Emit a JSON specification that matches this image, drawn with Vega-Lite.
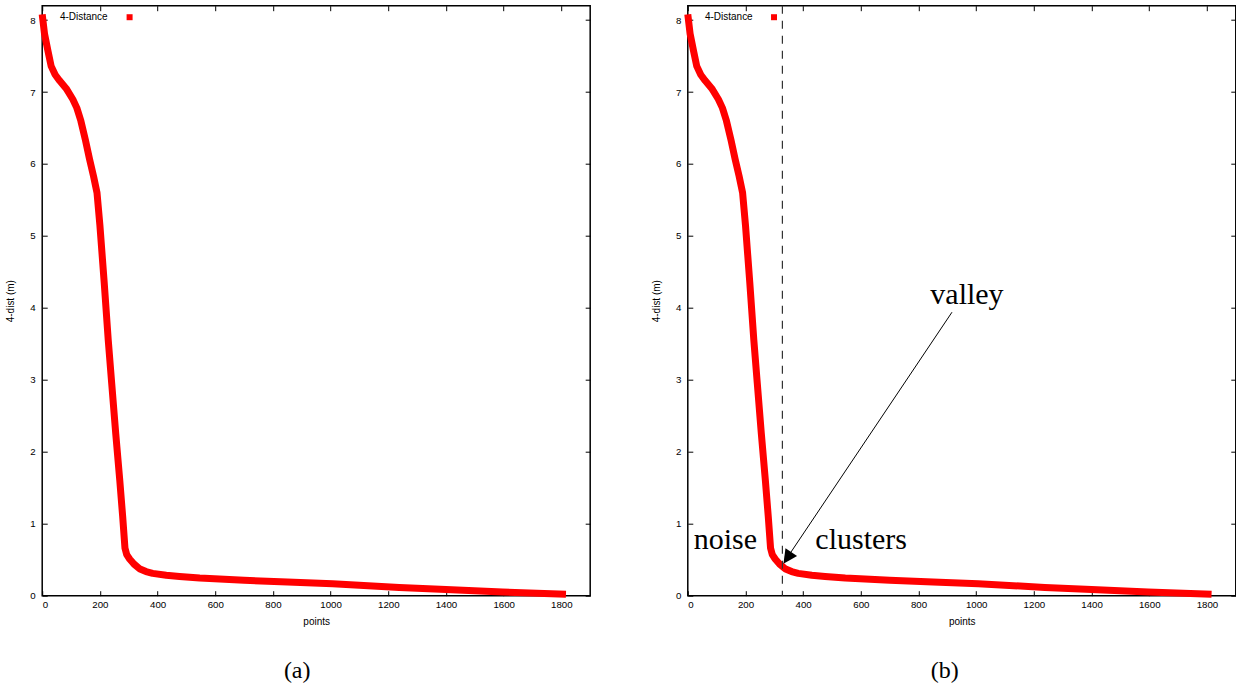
{
  "$schema": "https://vega.github.io/schema/vega-lite/v6.json",
  "padding": {"left": 4.2, "top": 3.7, "right": 0, "bottom": 0},
  "autosize": {"type": "pad"},
  "background": "white",
  "datasets": {
    "kdist": [
      {"points": 0, "dist": 8.08},
      {"points": 8, "dist": 7.81},
      {"points": 20, "dist": 7.57},
      {"points": 31, "dist": 7.36},
      {"points": 45, "dist": 7.24},
      {"points": 60, "dist": 7.16},
      {"points": 83, "dist": 7.05},
      {"points": 106, "dist": 6.9},
      {"points": 120, "dist": 6.78},
      {"points": 134, "dist": 6.6},
      {"points": 150, "dist": 6.33},
      {"points": 164, "dist": 6.07},
      {"points": 178, "dist": 5.83},
      {"points": 190, "dist": 5.6},
      {"points": 200, "dist": 5.15},
      {"points": 215, "dist": 4.35},
      {"points": 229, "dist": 3.55},
      {"points": 241, "dist": 2.95},
      {"points": 255, "dist": 2.25},
      {"points": 269, "dist": 1.6},
      {"points": 279, "dist": 1.1},
      {"points": 287, "dist": 0.66},
      {"points": 293, "dist": 0.57},
      {"points": 303, "dist": 0.51},
      {"points": 318, "dist": 0.44},
      {"points": 337, "dist": 0.375},
      {"points": 360, "dist": 0.335},
      {"points": 383, "dist": 0.31},
      {"points": 430, "dist": 0.283},
      {"points": 476, "dist": 0.266},
      {"points": 546, "dist": 0.245},
      {"points": 700, "dist": 0.215},
      {"points": 850, "dist": 0.19},
      {"points": 1007, "dist": 0.165},
      {"points": 1238, "dist": 0.115},
      {"points": 1400, "dist": 0.085},
      {"points": 1596, "dist": 0.052},
      {"points": 1816, "dist": 0.02}
    ]
  },
  "config": {
    "view": {"stroke": "black", "strokeWidth": 1.5},
    "axis": {
      "labelFont": "Liberation Sans",
      "labelFontSize": 9.7,
      "labelColor": "black",
      "titleFont": "Liberation Sans",
      "titleFontSize": 10,
      "titleFontWeight": "normal",
      "titleColor": "black",
      "tickColor": "black",
      "tickWidth": 1,
      "tickSize": -5,
      "domain": false,
      "grid": false,
      "labelPadding": 12
    },
    "axisBottom": {"labelPadding": 9, "titlePadding": 7},
    "title": {
      "font": "Liberation Serif",
      "fontSize": 24,
      "fontWeight": "normal",
      "color": "black"
    }
  },
  "bounds": "flush",
  "spacing": 97.6,
  "hconcat": [
    {
      "width": 548,
      "height": 590,
      "title": {"text": "(a)", "orient": "bottom", "anchor": "middle", "frame": "group", "dx": -19, "offset": 33},
      "layer": [
        {
          "data": {"name": "kdist"},
          "mark": {"type": "line", "color": "#ff0000", "strokeWidth": 7, "strokeJoin": "round", "clip": false},
          "encoding": {
            "x": {"field": "points", "type": "quantitative", "scale": {"domain": [0, 1900], "nice": false, "zero": false},
                  "axis": {"orient": "bottom", "title": "points", "values": [0, 200, 400, 600, 800, 1000, 1200, 1400, 1600, 1800], "format": "d"}},
            "y": {"field": "dist", "type": "quantitative", "scale": {"domain": [0, 8.2], "nice": false},
                  "axis": {"orient": "left", "title": "4-dist (m)", "values": [0, 1, 2, 3, 4, 5, 6, 7, 8], "format": "d", "titlePadding": 14}}
          }
        },
        {
          "data": {"values": [{}]},
          "mark": {"type": "text", "align": "right", "baseline": "middle", "font": "Liberation Sans", "fontSize": 10, "color": "black"},
          "encoding": {
            "x": {"datum": 227, "type": "quantitative", "axis": {"orient": "top", "labels": false, "title": null, "values": [0, 200, 400, 600, 800, 1000, 1200, 1400, 1600, 1800]}},
            "y": {"datum": 8.04, "type": "quantitative", "axis": {"orient": "right", "labels": false, "title": null, "values": [0, 1, 2, 3, 4, 5, 6, 7, 8]}},
            "text": {"value": "4-Distance"}
          }
        },
        {
          "data": {"values": [{}]},
          "mark": {"type": "square", "color": "#ff0000", "size": 36, "opacity": 1, "filled": true},
          "encoding": {
            "x": {"datum": 303, "type": "quantitative", "axis": null},
            "y": {"datum": 8.04, "type": "quantitative", "axis": null}
          }
        }
      ]
    },
    {
      "width": 548,
      "height": 590,
      "title": {"text": "(b)", "orient": "bottom", "anchor": "middle", "frame": "group", "dx": -17, "offset": 33},
      "layer": [
        {
          "data": {"name": "kdist"},
          "mark": {"type": "line", "color": "#ff0000", "strokeWidth": 7, "strokeJoin": "round", "clip": false},
          "encoding": {
            "x": {"field": "points", "type": "quantitative", "scale": {"domain": [0, 1900], "nice": false, "zero": false},
                  "axis": {"orient": "bottom", "title": "points", "values": [0, 200, 400, 600, 800, 1000, 1200, 1400, 1600, 1800], "format": "d"}},
            "y": {"field": "dist", "type": "quantitative", "scale": {"domain": [0, 8.2], "nice": false},
                  "axis": {"orient": "left", "title": "4-dist (m)", "values": [0, 1, 2, 3, 4, 5, 6, 7, 8], "format": "d", "titlePadding": 14}}
          }
        },
        {
          "data": {"values": [{}]},
          "mark": {"type": "text", "align": "right", "baseline": "middle", "font": "Liberation Sans", "fontSize": 10, "color": "black"},
          "encoding": {
            "x": {"datum": 225, "type": "quantitative", "axis": {"orient": "top", "labels": false, "title": null, "values": [0, 200, 400, 600, 800, 1000, 1200, 1400, 1600, 1800]}},
            "y": {"datum": 8.04, "type": "quantitative", "axis": {"orient": "right", "labels": false, "title": null, "values": [0, 1, 2, 3, 4, 5, 6, 7, 8]}},
            "text": {"value": "4-Distance"}
          }
        },
        {
          "data": {"values": [{}]},
          "mark": {"type": "square", "color": "#ff0000", "size": 36, "opacity": 1, "filled": true},
          "encoding": {
            "x": {"datum": 299, "type": "quantitative", "axis": null},
            "y": {"datum": 8.04, "type": "quantitative", "axis": null}
          }
        },
        {
          "data": {"values": [{}]},
          "mark": {"type": "rule", "color": "#333333", "strokeWidth": 1.2, "strokeDash": [8, 7]},
          "encoding": {
            "x": {"datum": 328, "type": "quantitative", "axis": null}
          }
        },
        {
          "data": {"values": [{}]},
          "mark": {"type": "rule", "color": "black", "strokeWidth": 1},
          "encoding": {
            "x": {"datum": 916, "type": "quantitative", "axis": null},
            "y": {"datum": 3.94, "type": "quantitative", "axis": null},
            "x2": {"datum": 350},
            "y2": {"datum": 0.56}
          }
        },
        {
          "data": {"values": [{}]},
          "mark": {"type": "point", "shape": "M0,0L-0.5,1L0.5,1Z", "size": 784, "angle": 214, "filled": true, "color": "black", "opacity": 1},
          "encoding": {
            "x": {"datum": 331.7, "type": "quantitative", "axis": null},
            "y": {"datum": 0.444, "type": "quantitative", "axis": null}
          }
        },
        {
          "data": {"values": [{}]},
          "mark": {"type": "text", "align": "center", "baseline": "alphabetic", "font": "Liberation Serif", "fontSize": 30, "color": "black"},
          "encoding": {
            "x": {"datum": 130, "type": "quantitative", "axis": null},
            "y": {"datum": 0.653, "type": "quantitative", "axis": null},
            "text": {"value": "noise"}
          }
        },
        {
          "data": {"values": [{}]},
          "mark": {"type": "text", "align": "center", "baseline": "alphabetic", "font": "Liberation Serif", "fontSize": 30, "color": "black"},
          "encoding": {
            "x": {"datum": 601, "type": "quantitative", "axis": null},
            "y": {"datum": 0.653, "type": "quantitative", "axis": null},
            "text": {"value": "clusters"}
          }
        },
        {
          "data": {"values": [{}]},
          "mark": {"type": "text", "align": "center", "baseline": "alphabetic", "font": "Liberation Serif", "fontSize": 30, "color": "black"},
          "encoding": {
            "x": {"datum": 968, "type": "quantitative", "axis": null},
            "y": {"datum": 4.056, "type": "quantitative", "axis": null},
            "text": {"value": "valley"}
          }
        }
      ]
    }
  ]
}
